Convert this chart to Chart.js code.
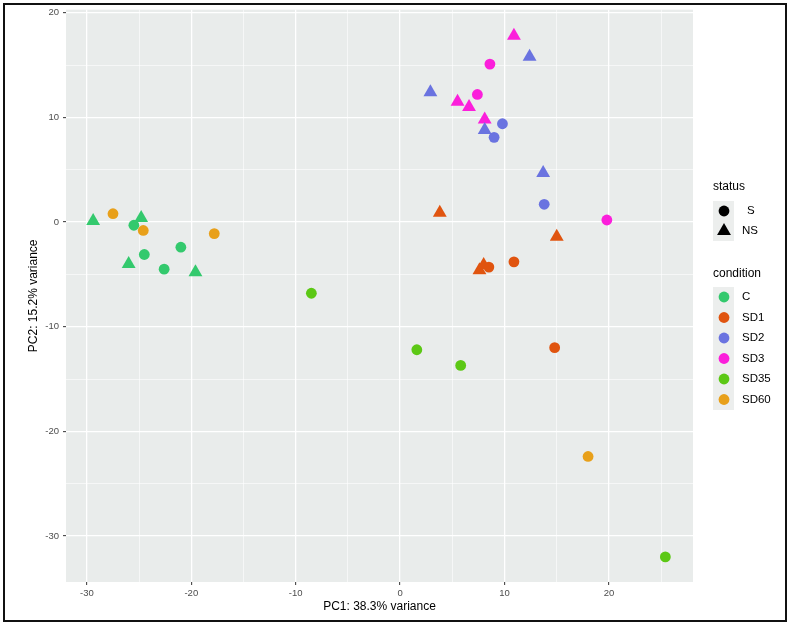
<!DOCTYPE html>
<html>
<head>
<meta charset="utf-8">
<script src="https://cdn.jsdelivr.net/npm/chart.js@4"></script>
<style>
  body { margin: 0; background: #fff; }
  #wrap { position: relative; width: 797px; height: 623px; }
  #frame { position: absolute; left: 3px; top: 3px; width: 784px; height: 619px; border: 2px solid #111; box-sizing: border-box; pointer-events: none; }
  canvas { position: absolute; left: 0; top: 0; }
</style>
</head>
<body>
<div id="wrap">
  <canvas id="pcaChart" width="797" height="623"></canvas>
  <div id="frame"></div>
</div>
<script>
const conditions = ['C', 'SD1', 'SD2', 'SD3', 'SD35', 'SD60'];
const statusLevels = ['S', 'NS'];

// PC1 / PC2 per sample, grouped by condition
const pc1_C = [-25.5, -21.0, -24.5, -22.6, -29.4, -24.8, -26.0, -19.6];
const pc2_C = [-0.3, -2.4, -3.1, -4.5, 0.1, 0.4, -4.0, -4.8];
const status_C = ['S', 'S', 'S', 'S', 'NS', 'NS', 'NS', 'NS'];

const pc1_SD1 = [10.9, 8.5, 14.8, 3.8, 15.0, 7.6, 8.0];
const pc2_SD1 = [-3.8, -4.3, -12.0, 0.9, -1.4, -4.6, -4.1];
const status_SD1 = ['S', 'S', 'S', 'NS', 'NS', 'NS', 'NS'];

const pc1_SD2 = [9.8, 9.0, 13.8, 2.9, 12.4, 8.1, 13.7];
const pc2_SD2 = [9.4, 8.1, 1.7, 12.4, 15.8, 8.8, 4.7];
const status_SD2 = ['S', 'S', 'S', 'NS', 'NS', 'NS', 'NS'];

const pc1_SD3 = [8.6, 7.4, 19.8, 10.9, 5.5, 6.6, 8.1];
const pc2_SD3 = [15.1, 12.2, 0.2, 17.8, 11.5, 11.0, 9.8];
const status_SD3 = ['S', 'S', 'S', 'NS', 'NS', 'NS', 'NS'];

const pc1_SD35 = [-8.5, 1.6, 5.8, 25.4];
const pc2_SD35 = [-6.8, -12.2, -13.7, -32.0];
const status_SD35 = ['S', 'S', 'S', 'S'];

const pc1_SD60 = [-27.5, -24.6, -17.8, 18.0];
const pc2_SD60 = [0.8, -0.8, -1.1, -22.4];
const status_SD60 = ['S', 'S', 'S', 'S'];

const xTicks = [-30, -20, -10, 0, 10, 20];
const yTicks = [20, 10, 0, -10, -20, -30];
const xMinor = [-25, -15, -5, 5, 15, 25];
const yMinor = [15, 5, -5, -15, -25];

const colors = {
    C: '#33c96d',
    SD1: '#e0540f',
    SD2: '#6a73e0',
    SD3: '#fb1fdb',
    SD35: '#5cc815',
    SD60: '#e8a01a',
};

const groups = {
    C: [pc1_C, pc2_C, status_C],
    SD1: [pc1_SD1, pc2_SD1, status_SD1],
    SD2: [pc1_SD2, pc2_SD2, status_SD2],
    SD3: [pc1_SD3, pc2_SD3, status_SD3],
    SD35: [pc1_SD35, pc2_SD35, status_SD35],
    SD60: [pc1_SD60, pc2_SD60, status_SD60],
};

const FONT = '"Liberation Sans", Arial, sans-serif';
const CIRCLE_R = 5.4;
const TRI_R = 8;

const datasets = conditions.map(function (cond) {
    const g = groups[cond];
    return {
        label: cond,
        data: g[0].map(function (x, i) { return { x: x, y: g[1][i], s: g[2][i] }; }),
        backgroundColor: colors[cond],
        borderColor: colors[cond],
        borderWidth: 0,
        pointStyle: function (ctx) { return ctx.raw && ctx.raw.s === 'NS' ? 'triangle' : 'circle'; },
        pointRadius: function (ctx) { return ctx.raw && ctx.raw.s === 'NS' ? TRI_R : CIRCLE_R; },
        pointHoverRadius: function (ctx) { return ctx.raw && ctx.raw.s === 'NS' ? TRI_R : CIRCLE_R; },
    };
});

const panelBg = {
    id: 'panelBg',
    beforeDraw: function (chart) {
        const a = chart.chartArea;
        const ctx = chart.ctx;
        ctx.save();
        ctx.fillStyle = '#e9eceb';
        ctx.fillRect(a.left, a.top, a.right - a.left, a.bottom - a.top);
        ctx.restore();
    },
};

const ggLegend = {
    id: 'ggLegend',
    afterDraw: function (chart) {
        const ctx = chart.ctx;
        const draw = Chart.helpers.drawPoint;
        ctx.save();
        ctx.textBaseline = 'middle';
        ctx.textAlign = 'left';
        ctx.fillStyle = '#000';
        ctx.font = '12px ' + FONT;
        ctx.fillText('status', 713, 187);
        ctx.fillText('condition', 713, 274);

        ctx.fillStyle = '#eceeed';
        ctx.fillRect(713, 201, 21, 40);
        ctx.fillRect(713, 287, 21, 123);

        ctx.font = '11.5px ' + FONT;
        statusLevels.forEach(function (s, i) {
            const y = 211 + i * 20;
            ctx.fillStyle = '#000';
            ctx.strokeStyle = '#000';
            draw(ctx, { pointStyle: s === 'NS' ? 'triangle' : 'circle', radius: s === 'NS' ? TRI_R : CIRCLE_R, borderWidth: 0, rotation: 0 }, 724, y);
            ctx.fillStyle = '#000';
            ctx.fillText(s, s === 'S' ? 747 : 742, y);
        });

        conditions.forEach(function (c, i) {
            const y = 297 + i * 20.5;
            ctx.fillStyle = colors[c];
            ctx.strokeStyle = colors[c];
            draw(ctx, { pointStyle: 'circle', radius: CIRCLE_R, borderWidth: 0, rotation: 0 }, 724, y);
            ctx.fillStyle = '#000';
            ctx.fillText(c, 742, y);
        });
        ctx.restore();
    },
};

function isMajor(v, list) { return list.indexOf(v) !== -1; }

new Chart(document.getElementById('pcaChart'), {
    type: 'scatter',
    data: { datasets: datasets },
    plugins: [panelBg, ggLegend],
    options: {
        responsive: false,
        animation: false,
        devicePixelRatio: 1,
        layout: { padding: { left: 0, top: 8, right: 104, bottom: 0 } },
        plugins: {
            legend: { display: false },
            tooltip: { enabled: false },
        },
        scales: {
            x: {
                type: 'linear',
                min: -32.0,
                max: 28.05,
                afterBuildTicks: function (scale) {
                    scale.ticks = xTicks.concat(xMinor).sort(function (a, b) { return a - b; }).map(function (v) { return { value: v }; });
                },
                afterFit: function (scale) { scale.height = 41; },
                border: { display: false },
                grid: {
                    color: '#ffffff',
                    lineWidth: function (ctx) { return ctx.tick && isMajor(ctx.tick.value, xTicks) ? 1.3 : 0.6; },
                    drawTicks: true,
                    tickLength: 3,
                    tickWidth: 1,
                    tickColor: function (ctx) { return ctx.tick && isMajor(ctx.tick.value, xTicks) ? '#333333' : 'rgba(0,0,0,0)'; },
                },
                ticks: {
                    autoSkip: false,
                    maxRotation: 0,
                    padding: 3,
                    color: '#4d4d4d',
                    font: { family: FONT, size: 9.5 },
                    callback: function (v) { return isMajor(v, xTicks) ? String(v) : ''; },
                },
                title: {
                    display: true,
                    text: 'PC1: 38.3% variance',
                    color: '#000',
                    font: { family: FONT, size: 12 },
                    padding: { top: 0, bottom: 9 },
                },
            },
            y: {
                type: 'linear',
                min: -34.4,
                max: 20.3,
                afterBuildTicks: function (scale) {
                    scale.ticks = yTicks.concat(yMinor).sort(function (a, b) { return a - b; }).map(function (v) { return { value: v }; });
                },
                afterFit: function (scale) { scale.width = 66; },
                border: { display: false },
                grid: {
                    color: '#ffffff',
                    lineWidth: function (ctx) { return ctx.tick && isMajor(ctx.tick.value, yTicks) ? 1.3 : 0.6; },
                    drawTicks: true,
                    tickLength: 3,
                    tickWidth: 1,
                    tickColor: function (ctx) { return ctx.tick && isMajor(ctx.tick.value, yTicks) ? '#333333' : 'rgba(0,0,0,0)'; },
                },
                ticks: {
                    autoSkip: false,
                    padding: 4,
                    color: '#4d4d4d',
                    font: { family: FONT, size: 9.5 },
                    callback: function (v) { return isMajor(v, yTicks) ? String(v) : ''; },
                },
                title: {
                    display: true,
                    text: 'PC2: 15.2% variance',
                    color: '#000',
                    font: { family: FONT, size: 12 },
                    padding: { top: 26, bottom: 0 },
                },
            },
        },
    },
});
</script>
</body>
</html>
